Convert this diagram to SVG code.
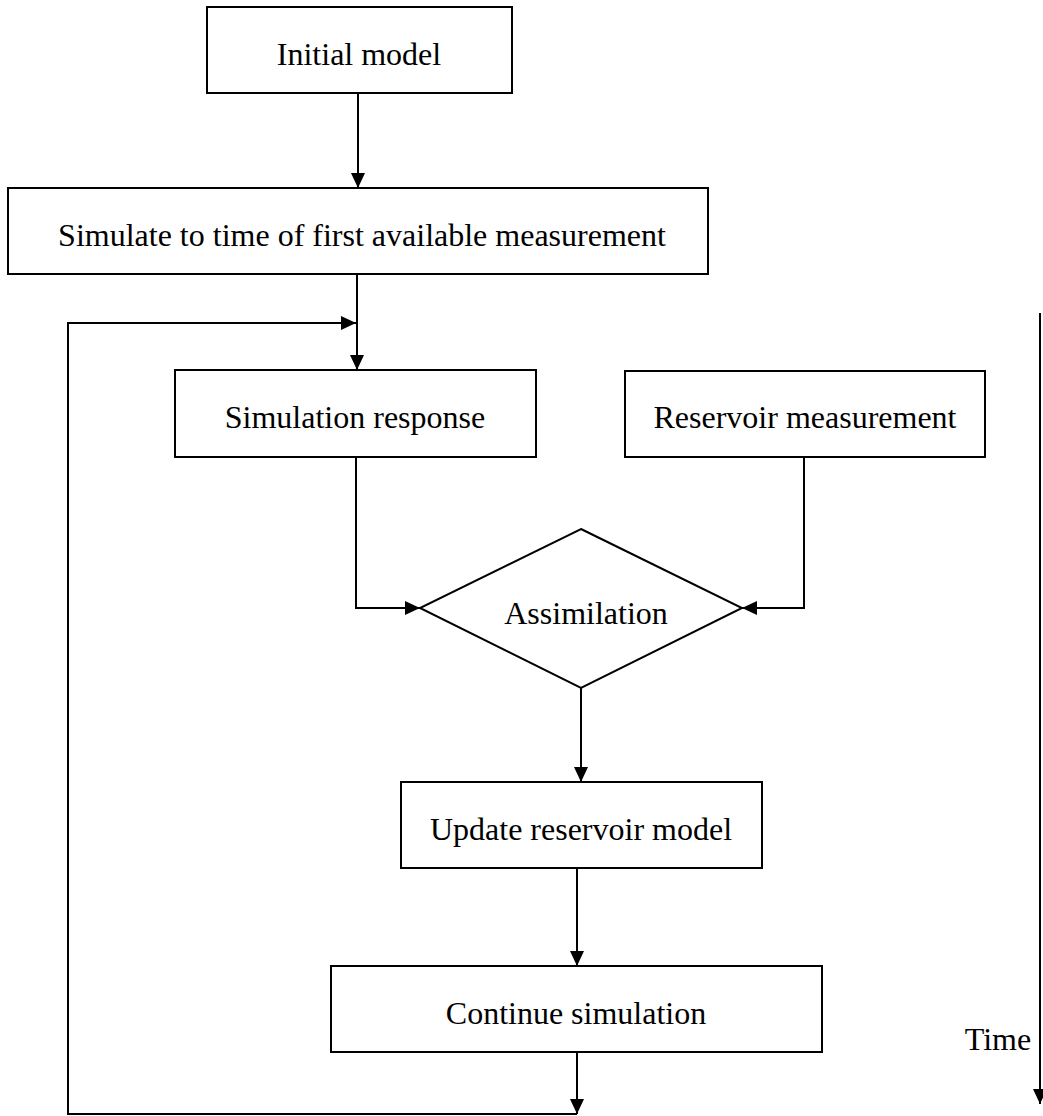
<svg xmlns="http://www.w3.org/2000/svg" width="1043" height="1116" viewBox="0 0 1043 1116">
<style>
.box{fill:#fff;stroke:#000;stroke-width:2}
.lbl{font-family:"Liberation Serif","Times New Roman",serif;font-size:32px;fill:#000;text-anchor:middle}
.con{fill:none;stroke:#000;stroke-width:2}
</style>
<defs>
<marker id="ah" markerUnits="userSpaceOnUse" markerWidth="16" markerHeight="16" refX="15" refY="7" orient="auto">
<path d="M0,0 L15,7 L0,14 Z" fill="#000"/>
</marker>
</defs>
<rect width="1043" height="1116" fill="#fff"/>
<g id="connectors">
<path class="con" d="M358,93 V188" marker-end="url(#ah)"/>
<path class="con" d="M357,274 V370" marker-end="url(#ah)"/>
<path class="con" d="M577,1114 H68 V323 H356" marker-end="url(#ah)"/>
<path class="con" d="M356,457 V608 H420" marker-end="url(#ah)"/>
<path class="con" d="M804,457 V608 H742" marker-end="url(#ah)"/>
<path class="con" d="M581,688 V782" marker-end="url(#ah)"/>
<path class="con" d="M577,868 V966" marker-end="url(#ah)"/>
<path class="con" d="M577,1052 V1114" marker-end="url(#ah)"/>
<path class="con" d="M1040,313 V1104" marker-end="url(#ah)"/>
</g>
<g id="initial-model">
<rect class="box" x="207" y="7" width="305" height="86"/>
<text class="lbl" x="359" y="65">Initial model</text>
</g>
<g id="simulate">
<rect class="box" x="8" y="188" width="700" height="86"/>
<text class="lbl" x="362" y="246">Simulate to time of first available measurement</text>
</g>
<g id="simulation-response">
<rect class="box" x="175" y="370" width="361" height="87"/>
<text class="lbl" x="355" y="428">Simulation response</text>
</g>
<g id="reservoir-measurement">
<rect class="box" x="625" y="371" width="360" height="86"/>
<text class="lbl" x="805" y="428">Reservoir measurement</text>
</g>
<g id="assimilation">
<polygon class="box" points="581,529 742,608 581,688 420,608"/>
<text class="lbl" x="586" y="624">Assimilation</text>
</g>
<g id="update-model">
<rect class="box" x="401" y="782" width="361" height="86"/>
<text class="lbl" x="581" y="840">Update reservoir model</text>
</g>
<g id="continue-simulation">
<rect class="box" x="331" y="966" width="491" height="86"/>
<text class="lbl" x="576" y="1024">Continue simulation</text>
</g>
<g id="time-label">
<text class="lbl" x="998" y="1050">Time</text>
</g>
</svg>
